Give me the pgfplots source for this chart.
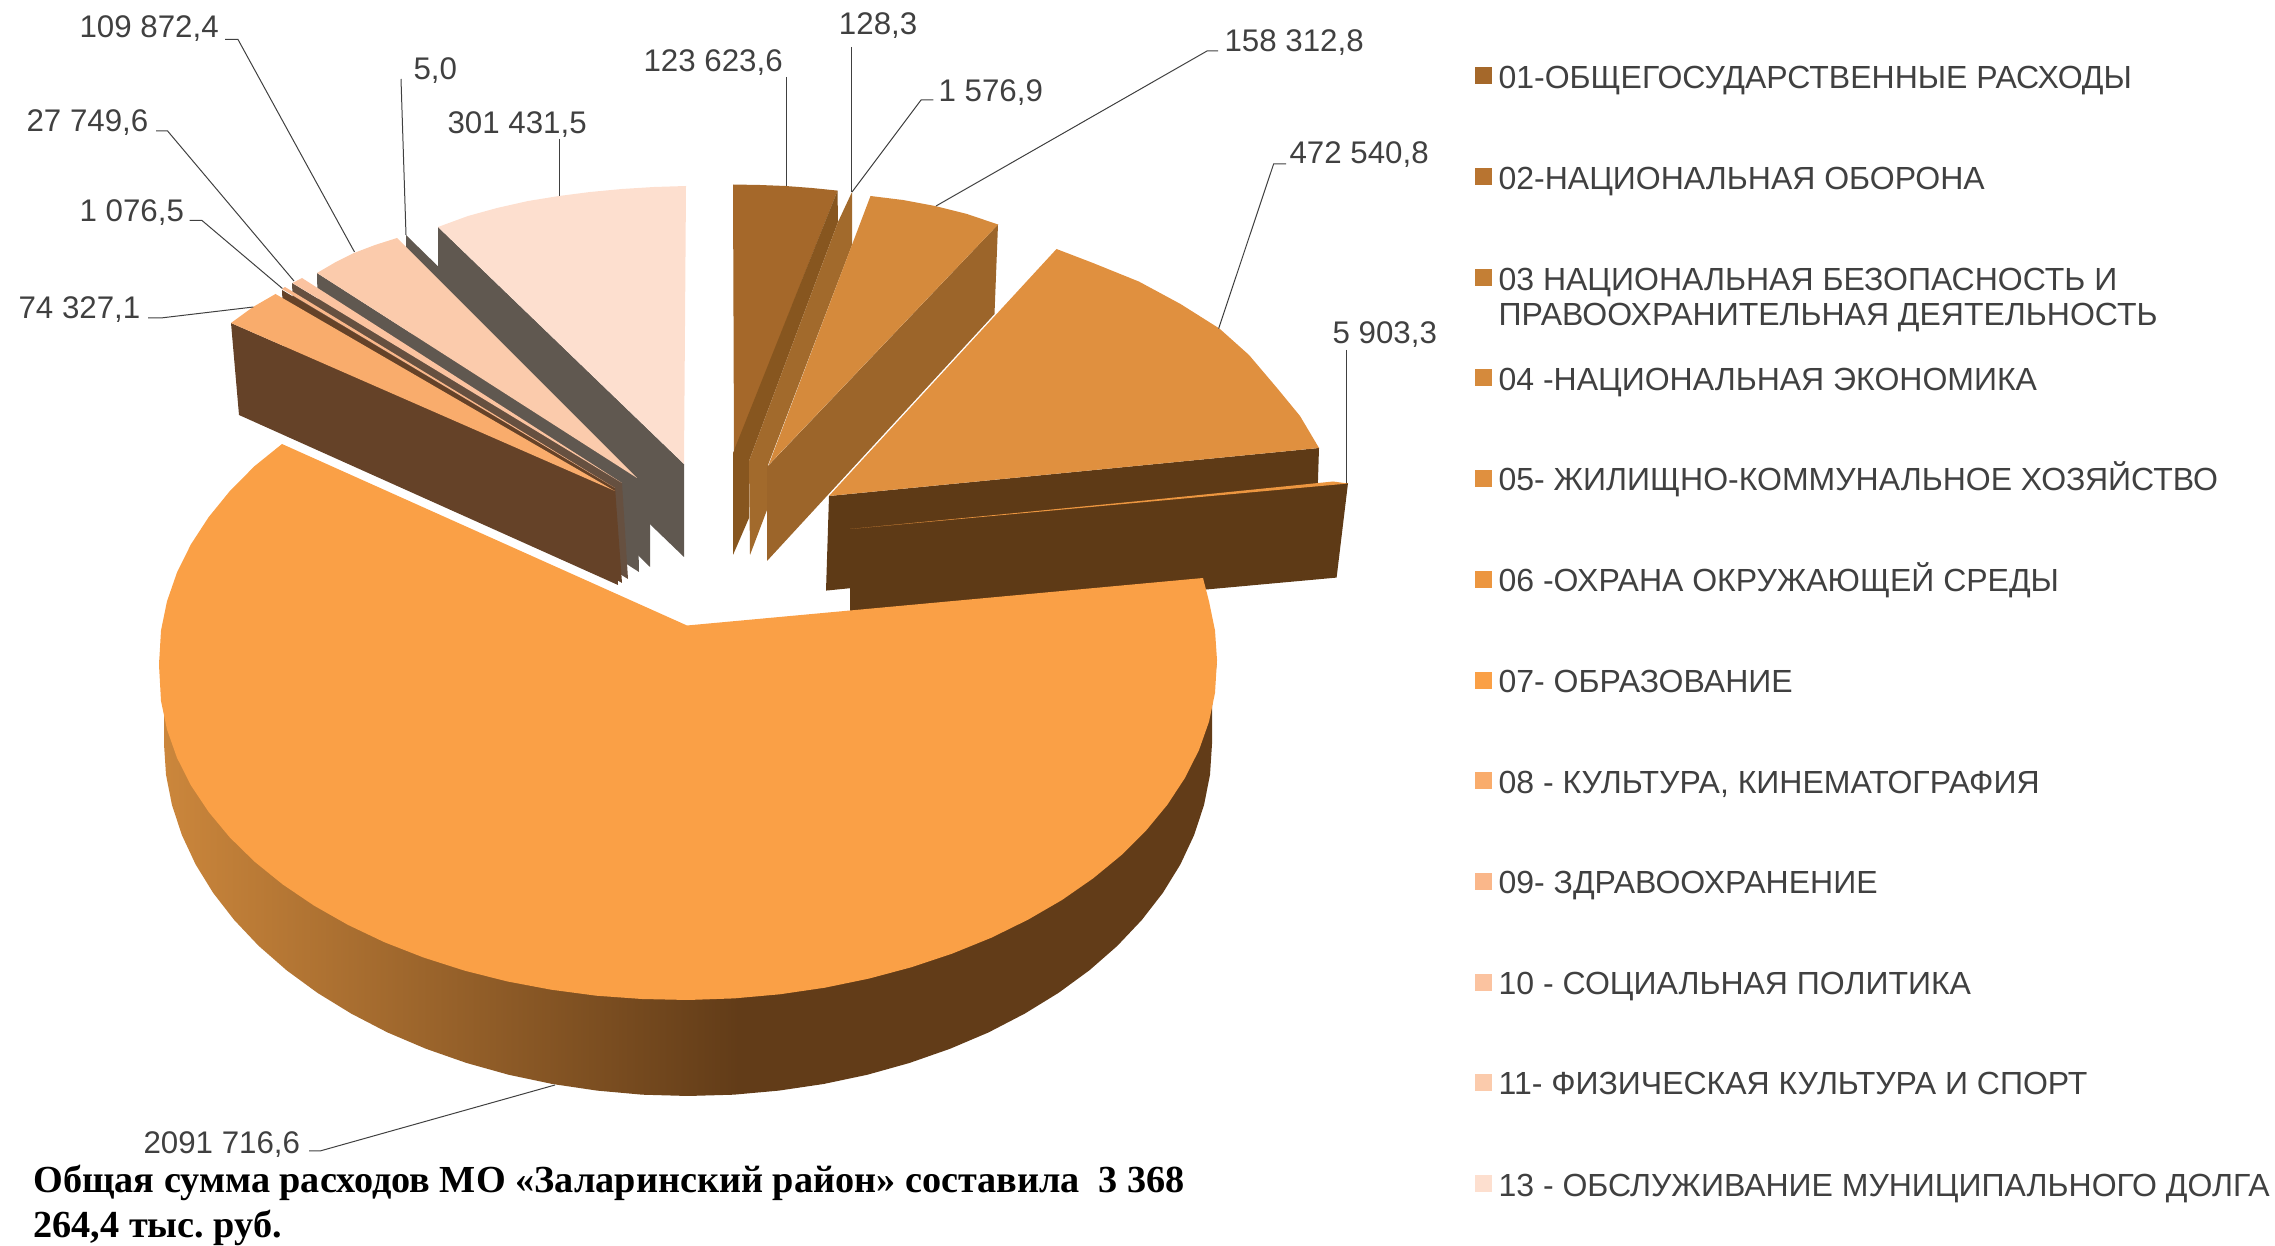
\documentclass[border=0pt]{standalone}
\usepackage{fontspec}
\setmainfont{Liberation Sans}
\newfontfamily\boldserif{Liberation Serif}
\usepackage{pgfplots}
\pgfplotsset{compat=1.18}

\definecolor{lab}{HTML}{404040}
\definecolor{c01}{HTML}{A5682A}
\definecolor{c02}{HTML}{B87430}
\definecolor{c03}{HTML}{C47F35}
\definecolor{c04}{HTML}{D58A3C}
\definecolor{c05}{HTML}{E0903F}
\definecolor{c06}{HTML}{EC9640}
\definecolor{c07}{HTML}{FAA046}
\definecolor{c08}{HTML}{F9AC6C}
\definecolor{c09}{HTML}{FAB78A}
\definecolor{c10}{HTML}{FBC3A0}
\definecolor{c11}{HTML}{FBCBAC}
\definecolor{c13}{HTML}{FDDFCF}
\definecolor{sdark}{HTML}{87561F}
\definecolor{smid}{HTML}{A26A2C}
\definecolor{sside}{HTML}{9C652A}
\definecolor{brown}{HTML}{5E3A16}
\definecolor{bside}{HTML}{654228}
\definecolor{gside}{HTML}{605850}
\definecolor{gside2}{HTML}{665040}
\definecolor{wallL}{HTML}{CC873C}
\definecolor{wallR}{HTML}{623C18}
\pgfdeclarehorizontalshading{wallshade}{100bp}{color(0bp)=(wallL); color(25bp)=(wallL); color(52.4bp)=(wallR); color(100bp)=(wallR)}

\newcommand{\poly}[2]{\addplot[fill=#1,draw=none] coordinates {#2} -- cycle;}
\newcommand{\lead}[1]{\addplot[lab,line width=0.35pt] coordinates {#1};}
\newcommand{\val}[3]{\node[anchor=base west,inner sep=0pt,text=lab,font=\fontsize{11}{13}\selectfont] at (axis cs:#1,#2) {#3};}
\newcommand{\legfont}{\fontsize{11.25}{13}\selectfont}
\newcommand{\leg}[3]{%
  \addplot[fill=#2,draw=none] coordinates {(1475,#1-8.5) (1492,#1-8.5) (1492,#1+8.5) (1475,#1+8.5)} -- cycle;
  \node[anchor=base west,inner sep=0pt,text=lab,font=\legfont] at (axis cs:1498,#1+12.5) {#3};}

\begin{document}
\frenchspacing
\begin{tikzpicture}
\path[use as bounding box] (0,0) rectangle (800pt,438.15pt);
\begin{axis}[
    scale only axis,
    width=800pt,
    height=438.15pt,
    xmin=0, xmax=2275,
    ymin=0, ymax=1246,
    y dir=reverse,
    hide axis,
    clip=false,
]
% left group, back to front
\poly{gside}{(438,227) (684,464) (684,557) (438,320)}
\poly{c13}{(438,227) (468,216) (497,208) (528,201) (559,196) (590,192) (622,189) (654,187) (686,186) (684,464)}
\poly{gside}{(406,235) (650,474) (650,567) (406,328)}
\poly{gside}{(317,273) (637,478) (639,572) (319,366)}
\poly{c11}{(317,273) (335,262.5) (354,253) (375,245) (397,238) (637,478)}
\poly{gside2}{(292,283) (622,483) (628,579) (296,376)}
\poly{c10}{(292.5,283) (302,278) (622,483)}
\poly{bside}{(282,290) (615,488) (622,583) (286,383)}
\poly{c09}{(282,289) (285,287) (615,488)}
\poly{bside}{(231,323) (615,491) (618,585) (239,415)}
\poly{c08}{(231,323) (253,307) (275.5,294) (615,491)}
% right group
\poly{c01}{(733,184.5) (760,185) (785.6,186) (812,188) (837.5,190.6) (734,453)}
\poly{sdark}{(837.5,190.6) (838,222) (749,461) (749,518) (733,555) (733,453)}
\poly{smid}{(852,192) (852,245) (768,465) (767,510) (750,555) (749,461) (838,222)}
\poly{sside}{(998,224.5) (767,467) (767,561) (994.5,314)}
\poly{c04}{(870.5,196) (903,200) (935,206) (967,214) (998,224.5) (768.6,465)}
\poly{brown}{(1319,448) (829,496) (826,590.6) (1316,542)}
\poly{c05}{(1056.5,249) (1093,263) (1139,281.6) (1180.5,304) (1219.5,328.6) (1249,355) (1277,388) (1300,416) (1319,448) (829,496)}
\poly{brown}{(1348,483) (850,529) (850,622) (1336.6,577.6)}
\poly{c06}{(1348,483.5) (1333,481.5) (1150,500) (850,529)}
% large slice: wall, then top
\addplot[shade,shading=wallshade,draw=none] coordinates {
  (1217,660) (1212,707) (1212,744) (1210,774.7) (1204,805.1) (1194.1,835.1) (1180.4,864.4)
  (1162.9,892.8) (1141.8,920) (1117.3,945.9) (1089.4,970.3) (1058.5,992.9) (1024.8,1013.6)
  (988.6,1032.4) (950,1048.8) (909.4,1063) (867.2,1074.8) (823.6,1084) (779,1090.6) (733.7,1094.7)
  (688,1096) (642.3,1094.7) (597,1090.6) (552.4,1084) (508.8,1074.8) (466.6,1063) (426,1048.8)
  (387.4,1032.4) (351.2,1013.6) (317.5,992.9) (286.6,970.3) (258.7,945.9) (234.2,920) (213.1,892.8)
  (195.6,864.4) (181.9,835.1) (172,805.1) (166,774.7) (164,744) (164,707) (159,660)} -- cycle;
\poly{c07}{(687,625.5) (1203,578) (1209,601.3) (1215,630.5) (1217,660) (1215,692.9) (1209,721.7) (1199,750)
  (1185.1,777.7) (1167.4,804.7) (1146.1,830.5) (1121.4,855.1) (1093.2,878.3) (1062,900) (1028,919.7)
  (991.4,937.7) (952.5,953.5) (911.6,967.2) (868.9,978.6) (824.9,987.7) (779.8,994.3) (734.1,998.4)
  (688,1000) (641.9,999) (596.2,995.7) (551.1,989.7) (507.1,981.4) (464.4,970.6) (423.5,957.5)
  (384.6,942.3) (348,924.9) (314,905.6) (282.8,884.5) (254.6,861.7) (229.9,837.5) (208.6,811.9)
  (190.9,785.3) (177,757.8) (167,729.5) (161,700.9) (159,665) (161,630.5) (167,601.3) (177,572.5)
  (190.9,544.4) (208.6,517.2) (229.9,491) (254.6,466.1) (282,444)}
% leader lines
\lead{(225,39.5) (238,39.5) (354.5,252)}
\lead{(156,131) (167.6,131) (294,281)}
\lead{(189.6,220.5) (202,220.5) (282.4,288.5)}
\lead{(148,318) (160.7,318) (253.4,307)}
\lead{(401,79) (406,235)}
\lead{(559,139) (559,196)}
\lead{(786,77) (786,186)}
\lead{(851.7,47) (851.7,192)}
\lead{(933.4,100) (921,100) (852,192)}
\lead{(1218,51) (1207,51) (936,206)}
\lead{(1286,164) (1273.6,164) (1218.6,328.6)}
\lead{(1346.7,350) (1346.7,483)}
\lead{(309,1151) (320,1151) (555,1085)}
% value labels
\val{79}{37.5}{109 872,4}
\val{26}{131.5}{27 749,6}
\val{79}{221.7}{1 076,5}
\val{18}{318.5}{74 327,1}
\val{413}{79.4}{5,0}
\val{447}{133.5}{301 431,5}
\val{643}{71.4}{123 623,6}
\val{838.4}{34.7}{128,3}
\val{938}{101.6}{1 576,9}
\val{1224}{51.8}{158 312,8}
\val{1289}{164}{472 540,8}
\val{1332}{343.6}{5 903,3}
\val{143}{1154}{2091 716,6}
% legend
\leg{75.6}{c01}{01-ОБЩЕГОСУДАРСТВЕННЫЕ РАСХОДЫ}
\leg{176.7}{c02}{02-НАЦИОНАЛЬНАЯ ОБОРОНА}
\leg{277.7}{c03}{03 НАЦИОНАЛЬНАЯ БЕЗОПАСНОСТЬ И}
\node[anchor=base west,inner sep=0pt,text=lab,font=\legfont] at (axis cs:1498,325.5) {ПРАВООХРАНИТЕЛЬНАЯ ДЕЯТЕЛЬНОСТЬ};
\leg{378}{c04}{04 -НАЦИОНАЛЬНАЯ ЭКОНОМИКА}
\leg{478.5}{c05}{05- ЖИЛИЩНО-КОММУНАЛЬНОЕ ХОЗЯЙСТВО}
\leg{579.5}{c06}{06 -ОХРАНА ОКРУЖАЮЩЕЙ СРЕДЫ}
\leg{680.5}{c07}{07- ОБРАЗОВАНИЕ}
\leg{781}{c08}{08 - КУЛЬТУРА, КИНЕМАТОГРАФИЯ}
\leg{881.5}{c09}{09- ЗДРАВООХРАНЕНИЕ}
\leg{982.5}{c10}{10 - СОЦИАЛЬНАЯ ПОЛИТИКА}
\leg{1082.5}{c11}{11- ФИЗИЧЕСКАЯ КУЛЬТУРА И СПОРТ}
\leg{1184}{c13}{13 - ОБСЛУЖИВАНИЕ МУНИЦИПАЛЬНОГО ДОЛГА}
% caption
\node[anchor=base west,inner sep=0pt,font=\boldserif\bfseries\fontsize{13.45}{15}\selectfont] at (axis cs:33,1193) {Общая сумма расходов МО «Заларинский район» составила\ \ 3 368};
\node[anchor=base west,inner sep=0pt,font=\boldserif\bfseries\fontsize{13.45}{15}\selectfont] at (axis cs:33,1238) {264,4 тыс. руб.};
\end{axis}
\end{tikzpicture}
\end{document}
